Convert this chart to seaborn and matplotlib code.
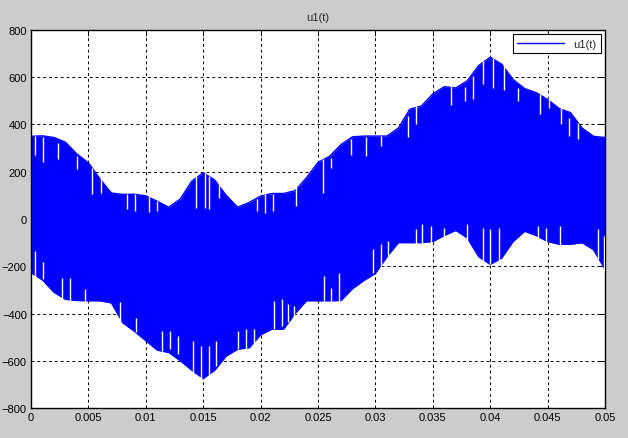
### DEPENDENCIES ###
import numpy as np
import pandas as pd
import matplotlib
matplotlib.use('Agg')
import matplotlib.pyplot as plt
import seaborn as sns

### DATA (envelope of u1(t)) ###
t = [0.000, 0.001, 0.002, 0.003, 0.004, 0.005, 0.006, 0.007, 0.008, 0.009,
     0.010, 0.011, 0.012, 0.013, 0.014, 0.015, 0.016, 0.017, 0.018, 0.019,
     0.020, 0.021, 0.022, 0.023, 0.024, 0.025, 0.026, 0.027, 0.028, 0.029,
     0.030, 0.031, 0.032, 0.033, 0.034, 0.035, 0.036, 0.037, 0.038, 0.039,
     0.040, 0.041, 0.042, 0.043, 0.044, 0.045, 0.046, 0.047, 0.048, 0.049,
     0.050]
u_upper = [350, 352, 345, 325, 275, 238, 170, 110, 104, 105,
           98, 75, 50, 85, 160, 196, 165, 100, 50, 70,
           97, 108, 108, 120, 175, 240, 265, 315, 348, 351,
           351, 351, 385, 465, 478, 530, 560, 555, 585, 650,
           685, 655, 590, 552, 535, 506, 468, 450, 385, 350,
           345]
u_lower = [-227, -258, -310, -340, -345, -346, -346, -355, -440, -475,
           -515, -555, -565, -600, -640, -675, -640, -580, -551, -545,
           -490, -466, -466, -400, -346, -346, -346, -345, -295, -260,
           -230, -160, -100, -100, -100, -95, -70, -48, -80, -160,
           -192, -165, -95, -52, -70, -95, -107, -107, -100, -130,
           -213]

# white gaps between switching pulses near the envelope edges (time, from, to)
gap_t = [0.00035, 0.00108, 0.00239, 0.00399, 0.00535, 0.00611, 0.00835, 0.00908, 0.0103, 0.0110,
         0.0144, 0.01513, 0.01547, 0.01635, 0.0197, 0.02036, 0.02106, 0.0231, 0.02542,
         0.02615, 0.02784, 0.0292, 0.03045, 0.03284, 0.03351, 0.03656, 0.03781,
         0.03851, 0.03933, 0.0402, 0.04122, 0.04244, 0.04433, 0.04514, 0.04616, 0.04689, 0.04767,
         0.00035, 0.00102, 0.00273, 0.0034, 0.00471, 0.00777, 0.00916, 0.0114, 0.01207,
         0.0128, 0.01411, 0.01481, 0.01547, 0.01612, 0.01804, 0.01876, 0.0194, 0.02115,
         0.02182, 0.0224, 0.02289, 0.02551, 0.02615, 0.02682, 0.02981, 0.03051, 0.03112,
         0.03351, 0.0341, 0.03482, 0.03598, 0.03796, 0.03933, 0.03999, 0.04078, 0.04413,
         0.04485, 0.04607, 0.04936, 0.04994]
gap_from = [351, 348, 323, 267, 217, 175, 104, 104, 97, 76,
            182, 196, 182, 175, 83, 104, 104, 140, 252,
            259, 337, 348, 351, 436, 478, 562, 560,
            605, 668, 682, 647, 555, 527, 548, 478, 429, 407,
            -135, -184, -248, -248, -295, -353, -417, -473, -473,
            -495, -516, -537, -537, -516, -473, -466, -466, -346,
            -339, -360, -367, -241, -290, -227, -128, -107, -93,
            -44, -23, -30, -37, -23, -37, -44, -37, -30,
            -37, -30, -44, -72]
gap_to = [269, 241, 255, 210, 104, 111, 41, 34, 30, 34,
          48, 48, 41, 90, 34, 27, 34, 55, 111,
          217, 273, 267, 309, 348, 400, 481, 499,
          506, 570, 555, 548, 499, 443, 471, 400, 351, 337,
          -244, -255, -343, -346, -346, -438, -480, -558, -551,
          -572, -650, -678, -671, -621, -551, -565, -551, -466,
          -452, -438, -438, -346, -346, -346, -227, -213, -157,
          -107, -100, -100, -79, -93, -185, -192, -185, -86,
          -100, -111, -171, -220]

x_ticks = [0, 0.005, 0.01, 0.015, 0.02, 0.025, 0.03, 0.035, 0.04, 0.045, 0.05]
x_labels = ['0', '0.005', '0.01', '0.015', '0.02', '0.025', '0.03', '0.035', '0.04', '0.045', '0.05']
y_ticks = [-800, -600, -400, -200, 0, 200, 400, 600, 800]

df = pd.DataFrame({'t': t, 'upper': u_upper, 'lower': u_lower})

### STYLE ###
sns.set_style('white')
plt.rcParams['font.family'] = ['Liberation Sans', 'DejaVu Sans']
plt.rcParams['font.size'] = 8

fig = plt.figure(figsize=(6.28, 4.39), dpi=100, facecolor='#cccccc')
ax = fig.add_axes([0.0494, 0.0683, 0.9140, 0.8611])
ax.set_facecolor('white')

# the switching signal fills the band between its envelopes
ax.fill_between(df['t'], df['lower'], df['upper'], color='#0000ff', linewidth=0, zorder=2)
sns.lineplot(data=df, x='t', y='upper', ax=ax, color='#0000ff', linewidth=1, label='u1(t)', zorder=2)
sns.lineplot(data=df, x='t', y='lower', ax=ax, color='#0000ff', linewidth=1, legend=False, zorder=2)
ax.vlines(gap_t, gap_from, gap_to, colors='white', linewidth=1, zorder=3)

ax.set_xlim(0, 0.05)
ax.set_ylim(-800, 800)
ax.set_xticks(x_ticks)
ax.set_xticklabels(x_labels)
ax.set_yticks(y_ticks)
ax.set_xlabel('')
ax.set_ylabel('')
ax.set_title('u1(t)', fontsize=8, pad=7)

ax.set_axisbelow(True)
ax.grid(True, color='black', linestyle=(0, (3, 3)), linewidth=0.7)
ax.tick_params(direction='in', length=4, width=0.7, top=True, right=True, colors='black', labelsize=8, pad=3)
for s in ax.spines.values():
    s.set_color('black')
    s.set_linewidth(1)
    s.set_visible(True)

leg = ax.legend(loc='upper right', fancybox=False, framealpha=1, edgecolor='black',
                handlelength=4.2, borderpad=0.4, borderaxespad=0.4, fontsize=8)
leg.get_frame().set_linewidth(0.8)
leg.set_zorder(5)

plt.savefig('out.png', dpi=100, facecolor=fig.get_facecolor())
